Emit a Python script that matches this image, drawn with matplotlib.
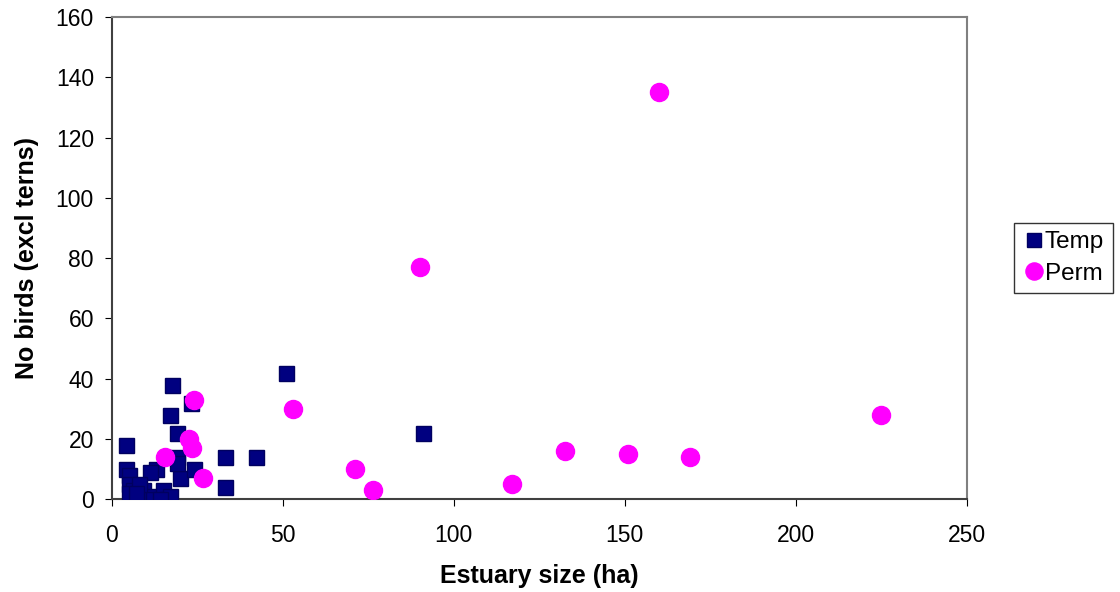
import matplotlib
matplotlib.use("Agg")
import matplotlib.pyplot as plt

plt.rcParams["font.family"] = ["Liberation Sans", "DejaVu Sans"]

# Temporarily open estuaries
temp_size = [4, 4, 5, 5, 6, 5, 9, 10, 11, 12, 13, 11, 15, 16, 17, 14, 8, 7,
             17, 17.5, 19, 19, 20, 19, 23, 24, 33, 33, 42, 51, 91]
temp_birds = [18, 10, 8, 5, 3, 2, 3, 0, 1, 0, 10, 9, 3, 0, 1, 0, 5, 2,
              28, 38, 22, 14, 7, 12, 32, 10, 14, 4, 14, 42, 22]

# Permanently open estuaries
perm_size = [160, 90, 53, 24, 22.5, 23.5, 15.5, 26.5, 71, 76.5, 117, 132.5, 151, 169, 225]
perm_birds = [135, 77, 30, 33, 20, 17, 14, 7, 10, 3, 5, 16, 15, 14, 28]

fig = plt.figure(figsize=(11.2, 5.92), dpi=100)
ax = fig.add_axes([0.1, 0.157, 0.763, 0.814])

ax.plot(temp_size, temp_birds, linestyle="none", marker="s", markersize=10.8,
        color="#000080", markeredgecolor="#000060", label="Temp", zorder=3)
ax.plot(perm_size, perm_birds, linestyle="none", marker="o", markersize=13,
        color="#ff00ff", markeredgecolor="#ff00ff", label="Perm", zorder=3)

ax.set_xlim(0, 250)
ax.set_ylim(0, 160)
ax.set_xticks(range(0, 251, 50))
ax.set_yticks(range(0, 161, 20))
ax.tick_params(direction="out", length=5, labelsize=16.5, colors="black")
ax.tick_params(axis="x", pad=13)
ax.tick_params(axis="y", pad=8)

for side in ["top", "right"]:
    ax.spines[side].set_color("#808080")
    ax.spines[side].set_linewidth(1.5)
for side in ["left", "bottom"]:
    ax.spines[side].set_color("#404040")
    ax.spines[side].set_linewidth(1.5)

ax.set_xlabel("Estuary size (ha)", fontsize=18, fontweight="bold", labelpad=12)
ax.set_ylabel("No birds (excl terns)", fontsize=18, fontweight="bold", labelpad=12)

leg = ax.legend(loc="center left", bbox_to_anchor=(1.056, 0.5), fontsize=17.5,
                frameon=True, fancybox=False, edgecolor="black",
                handletextpad=0.0, handlelength=0.9, borderpad=0.35,
                labelspacing=0.4, borderaxespad=0, markerscale=0.95)
leg.get_frame().set_linewidth(1.0)

fig.savefig("out.png", dpi=100)
